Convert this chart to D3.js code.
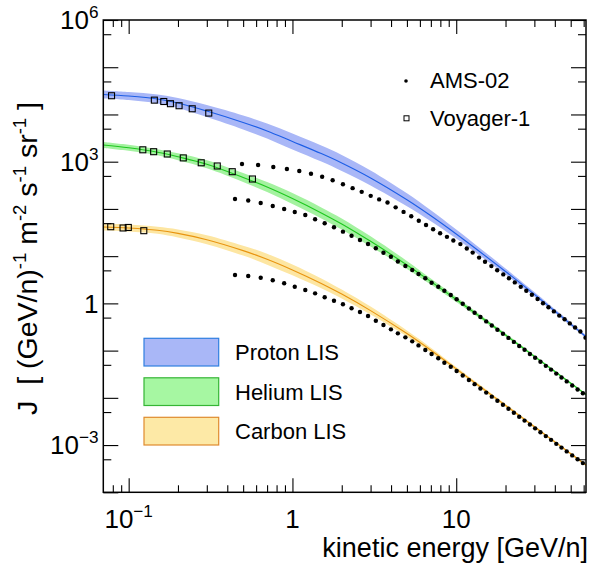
<!DOCTYPE html>
<html><head><meta charset="utf-8">
<script src="https://cdn.jsdelivr.net/npm/d3@7"></script>
<style>
html,body{margin:0;padding:0;background:#fff;}
svg{display:block;font-family:"Liberation Sans",Arial,Helvetica,sans-serif;}
</style></head><body>
<svg id="chart" width="595" height="564"></svg>
<script>
// ---------- data: local interstellar spectra (LIS) with uncertainty bands ----------
const lisEnergy = [0.07, 0.1, 0.15, 0.2, 0.3, 0.5, 0.7, 1, 1.5, 2, 3, 5, 7, 10, 20, 30, 62];

const protonLIS     = [26500, 24600, 21300, 17500, 11800, 6760, 4470, 2675, 1483, 938, 452, 156, 71.5, 29.4, 4.73, 1.556, 0.197];
const protonLISHigh = [32200, 29900, 26500, 22300, 15800, 9500, 6440, 3950, 2190, 1385, 651, 214, 93.5, 36.6, 5.48, 1.732, 0.212];
const protonLISLow  = [21800, 20200, 17100, 13700, 8810, 4810, 3100, 1811, 1004, 635, 314, 113.6, 54.7, 23.6, 4.08, 1.398, 0.183];

const heliumLIS     = [2257, 1968, 1581, 1270, 881, 462, 291, 166, 82.4, 48.0, 20.6, 6.50, 2.90, 1.208, 0.2138, 0.0757, 0.01178];
const heliumLISHigh = [2614, 2279, 1831, 1506, 1070, 575, 371, 217, 107.7, 62.7, 26.3, 7.90, 3.36, 1.365, 0.2300, 0.0802, 0.01237];
const heliumLISLow  = [1949, 1699, 1365, 1071, 725, 371, 228, 127, 63.0, 36.7, 16.1, 5.35, 2.50, 1.069, 0.1987, 0.0714, 0.01122];

const carbonLIS     = [41.4, 39.4, 35.3, 30.3, 22.3, 13.1, 8.62, 5.12, 2.65, 1.574, 0.703, 0.230, 0.1021, 0.0410, 0.00692, 0.00245, 0.000378];
const carbonLISHigh = [49.1, 46.7, 41.9, 36.8, 27.8, 16.7, 11.27, 6.69, 3.38, 1.960, 0.854, 0.266, 0.1154, 0.0452, 0.00745, 0.00260, 0.000397];
const carbonLISLow  = [34.9, 33.2, 29.8, 24.9, 17.9, 10.27, 6.60, 3.92, 2.08, 1.264, 0.579, 0.1986, 0.0904, 0.0372, 0.00643, 0.00231, 0.000360];

// ---------- data: AMS-02 measurements ----------
const amsProtonEnergy = [0.492, 0.617, 0.764, 0.925, 1.101, 1.298, 1.518, 1.760, 2.034, 2.330,
  2.647, 3.005, 3.385, 3.806, 4.267, 4.770, 5.313, 5.907, 6.541, 7.226,
  7.972, 8.777, 9.604, 10.60, 11.60, 12.60, 13.79, 14.99, 16.39, 17.79,
  19.38, 20.98, 22.78, 24.78, 26.78, 28.98, 31.38, 33.88, 36.57, 39.47,
  42.57, 45.87, 49.37, 53.17, 57.27, 61.57];
const amsProton = [893, 851, 773, 700, 635, 555, 479, 404, 332, 275,
  230, 189, 159, 137, 108, 86.5, 69.8, 56.0, 45.6, 37.2,
  30.6, 25.6, 21.4, 18.0, 14.5, 11.9, 9.31, 7.59, 6.15, 5.04,
  4.11, 3.41, 2.78, 2.24, 1.85, 1.52, 1.24, 1.01, 0.830, 0.676,
  0.551, 0.460, 0.377, 0.308, 0.253, 0.188];

const amsNucleusEnergy = [0.446, 0.537, 0.640, 0.758, 0.890, 1.033, 1.198, 1.375, 1.573, 1.793,
  2.034, 2.296, 2.584, 2.894, 3.229, 3.595, 3.992, 4.401, 4.894, 5.388,
  5.883, 6.477, 7.073, 7.769, 8.465, 9.261, 10.06, 10.96, 11.95, 12.95,
  14.05, 15.25, 16.49, 17.84, 19.29, 20.84, 22.49, 24.24, 26.14, 28.18,
  30.33, 32.68, 35.23, 37.93, 40.83, 43.93, 47.28, 51.08, 55.08, 59.33];
const amsHelium = [162, 151, 133, 115, 99.5, 86.1, 74.3, 60.3, 49.7, 40.8,
  33.0, 27.1, 22.0, 18.1, 14.7, 11.8, 9.73, 7.71, 6.18, 5.09,
  4.19, 3.40, 2.74, 2.25, 1.85, 1.50, 1.22, 0.979, 0.780, 0.635,
  0.515, 0.415, 0.340, 0.277, 0.227, 0.186, 0.153, 0.125, 0.104, 0.0847,
  0.0705, 0.0579, 0.0476, 0.0396, 0.0326, 0.0270, 0.0223, 0.0182, 0.0150, 0.0125];
const amsCarbon = [3.99, 3.80, 3.50, 3.08, 2.66, 2.25, 1.92, 1.63, 1.35, 1.14,
  0.955, 0.787, 0.656, 0.541, 0.430, 0.348, 0.282, 0.232, 0.191, 0.157,
  0.129, 0.103, 0.0847, 0.0687, 0.0555, 0.0456, 0.0370, 0.0297, 0.0239, 0.0195,
  0.0158, 0.0129, 0.0106, 0.00865, 0.00713, 0.00586, 0.00482, 0.00399, 0.00330, 0.00272,
  0.00226, 0.00187, 0.00155, 0.00129, 0.00106, 0.000883, 0.000734, 0.000604, 0.000500, 0.000415];

// ---------- data: Voyager-1 measurements ----------
const voyagerProtonEnergy = [0.0786, 0.1435, 0.1638, 0.1799, 0.2031, 0.2444, 0.3083];
const voyagerProton       = [24900, 20100, 18800, 16900, 15300, 13200, 10700];
const voyagerHeliumEnergy = [0.1220, 0.1421, 0.1721, 0.2155, 0.2774, 0.3475, 0.4290, 0.5699];
const voyagerHelium       = [1786, 1627, 1455, 1203, 948, 811, 614, 430];
const voyagerCarbonEnergy = [0.0777, 0.0924, 0.0995, 0.1237];
const voyagerCarbon       = [42.0, 39.5, 40.5, 34.6];

// ---------- axis ticks ----------
const xMajorTicks = [0.1, 1, 10];
const xMinorTicks = [0.08, 0.09, 0.2, 0.3, 0.4, 0.5, 0.6, 0.7, 0.8, 0.9, 2, 3, 4, 5, 6, 7, 8, 9, 20, 30, 40, 50, 60];
const xTickLabels = [["10", "\u22121"], ["1", ""], ["10", ""]];
const yMajorTicks = [1e-4, 1e-3, 1e-2, 1e-1, 1, 10, 100, 1e3, 1e4, 1e5, 1e6];
const yMinorTicks = [5e-4, 5e-3, 5e-2, 0.5, 5, 50, 500, 5e3, 5e4, 5e5];
const yLabelTicks = [1e-3, 1, 1e3, 1e6];
const yTickLabels = [["10", "\u22123"], ["1", ""], ["10", "3"], ["10", "6"]];

const legendLabels = ["Proton LIS", "Helium LIS", "Carbon LIS"];

// ---------- styles ----------
const species = [
  {lis: protonLIS, hi: protonLISHigh, lo: protonLISLow, band: "#a9b7f7", line: "#1d5ee6", border: "#2f7fe0", box: "#a9b7f7"},
  {lis: heliumLIS, hi: heliumLISHigh, lo: heliumLISLow, band: "#a4f2a0", line: "#1ec81e", border: "#35b535", box: "#a6f7a2"},
  {lis: carbonLIS, hi: carbonLISHigh, lo: carbonLISLow, band: "#fde6a2", line: "#e8940f", border: "#df8a2e", box: "#fde9a6"}
];

const svg = d3.select("#chart");
const frameL = 103.3, frameR = 586, frameT = 20, frameB = 492.3;

const x = d3.scaleLog().domain([0.07, 62]).range([frameL, frameR]);
const y = d3.scaleLog().domain([1e-4, 1e6]).range([frameB, frameT]);

svg.append("defs").append("clipPath").attr("id", "plotclip")
  .append("rect").attr("x", frameL).attr("y", frameT).attr("width", frameR - frameL).attr("height", frameB - frameT);

const plot = svg.append("g").attr("clip-path", "url(#plotclip)");
const smooth = d3.curveCatmullRom.alpha(0.5);

// bands
species.forEach(s => {
  const area = d3.area()
    .x((d, i) => x(lisEnergy[i]))
    .y0((d, i) => y(s.lo[i]))
    .y1((d, i) => y(s.hi[i]))
    .curve(smooth);
  plot.append("path").attr("d", area(lisEnergy)).attr("fill", s.band).attr("stroke", "none");
});
// central lines
species.forEach(s => {
  const line = d3.line()
    .x((d, i) => x(lisEnergy[i]))
    .y((d, i) => y(s.lis[i]))
    .curve(smooth);
  plot.append("path").attr("d", line(lisEnergy)).attr("fill", "none")
    .attr("stroke", s.line).attr("stroke-width", 1.1);
});

// Voyager-1 squares
const sq = 6;
[[voyagerProtonEnergy, voyagerProton], [voyagerHeliumEnergy, voyagerHelium], [voyagerCarbonEnergy, voyagerCarbon]]
  .forEach(([es, js]) => {
    plot.append("g").selectAll("rect").data(es).join("rect")
      .attr("x", (d) => x(d) - sq / 2)
      .attr("y", (d, i) => y(js[i]) - sq / 2)
      .attr("width", sq).attr("height", sq)
      .attr("fill", "none").attr("stroke", "#000").attr("stroke-width", 1.1);
  });

// AMS-02 dots
[[amsProtonEnergy, amsProton], [amsNucleusEnergy, amsHelium], [amsNucleusEnergy, amsCarbon]]
  .forEach(([es, js]) => {
    plot.append("g").selectAll("circle").data(es).join("circle")
      .attr("cx", (d) => x(d))
      .attr("cy", (d, i) => y(js[i]))
      .attr("r", 2.2).attr("fill", "#000");
  });

// ---------- frame and ticks ----------
const axes = svg.append("g");
function tickAxis(gen, transform, scaleTicks, size) {
  const g = axes.append("g").attr("transform", transform)
    .call(gen.tickValues(scaleTicks).tickSize(size).tickFormat(""));
  g.select(".domain").remove();
  g.selectAll(".tick line").attr("stroke", "#000").attr("stroke-width", 1.1);
}
tickAxis(d3.axisBottom(x), `translate(0,${frameB})`, xMajorTicks, -14);
tickAxis(d3.axisBottom(x), `translate(0,${frameB})`, xMinorTicks, -7);
tickAxis(d3.axisTop(x), `translate(0,${frameT})`, xMajorTicks, -14);
tickAxis(d3.axisTop(x), `translate(0,${frameT})`, xMinorTicks, -7);
tickAxis(d3.axisLeft(y), `translate(${frameL},0)`, yMajorTicks, -15);
tickAxis(d3.axisLeft(y), `translate(${frameL},0)`, yMinorTicks, -8);
tickAxis(d3.axisRight(y), `translate(${frameR},0)`, yMajorTicks, -15);
tickAxis(d3.axisRight(y), `translate(${frameR},0)`, yMinorTicks, -8);

axes.append("rect").attr("x", frameL).attr("y", frameT)
  .attr("width", frameR - frameL).attr("height", frameB - frameT)
  .attr("fill", "none").attr("stroke", "#000").attr("stroke-width", 1.5);

// tick labels with superscripts
function powerLabel(sel, base, sup, fs) {
  sel.append("tspan").text(base);
  if (sup) sel.append("tspan").attr("font-size", fs * 0.66).attr("dy", -fs * 0.42).text(sup);
}
const tickFs = 26;
xMajorTicks.forEach((v, i) => {
  const t = svg.append("text").attr("x", x(v)).attr("y", 527.5)
    .attr("text-anchor", "middle").attr("font-size", tickFs).attr("fill", "#000");
  powerLabel(t, xTickLabels[i][0], xTickLabels[i][1], tickFs);
});
yLabelTicks.forEach((v, i) => {
  const t = svg.append("text").attr("x", 98.5).attr("y", y(v) + 9.3)
    .attr("text-anchor", "end").attr("font-size", tickFs).attr("fill", "#000");
  powerLabel(t, yTickLabels[i][0], yTickLabels[i][1], tickFs);
});

// axis titles
svg.append("text").attr("x", 588).attr("y", 557).attr("text-anchor", "end")
  .attr("font-size", 27).attr("fill", "#000").text("kinetic energy [GeV/n]");

const ytFs = 28.5, supFs = 18.5;
const yt = svg.append("text").attr("transform", "translate(37,102) rotate(-90)")
  .attr("text-anchor", "end").attr("font-size", ytFs).attr("fill", "#000")
  .attr("xml:space", "preserve");
[["J  [ (GeV/n)", "-1"], [" m", "-2"], [" s", "-1"], [" sr", "-1"], [" ]", null]].forEach(([txt, sup], k) => {
  yt.append("tspan").attr("font-size", ytFs).attr("dy", k === 0 ? 0 : 11).text(txt);
  if (sup) yt.append("tspan").attr("font-size", supFs).attr("dy", -11).text(sup);
});

// ---------- legends ----------
svg.append("circle").attr("cx", 406).attr("cy", 81).attr("r", 1.8).attr("fill", "#000");
svg.append("text").attr("x", 430).attr("y", 88.3).attr("font-size", 22).text("AMS-02");
svg.append("rect").attr("x", 404).attr("y", 115.8).attr("width", 5).attr("height", 5)
  .attr("fill", "none").attr("stroke", "#000").attr("stroke-width", 1);
svg.append("text").attr("x", 430).attr("y", 126).attr("font-size", 22).text("Voyager-1");

legendLabels.forEach((lab, i) => {
  const yy = 338.3 + i * 39.5;
  svg.append("rect").attr("x", 144).attr("y", yy).attr("width", 74.7).attr("height", 27.7)
    .attr("fill", species[i].box).attr("stroke", species[i].border).attr("stroke-width", 1.2);
  svg.append("text").attr("x", 235).attr("y", yy + 22).attr("font-size", 22).text(lab);
});
</script>
</body></html>
